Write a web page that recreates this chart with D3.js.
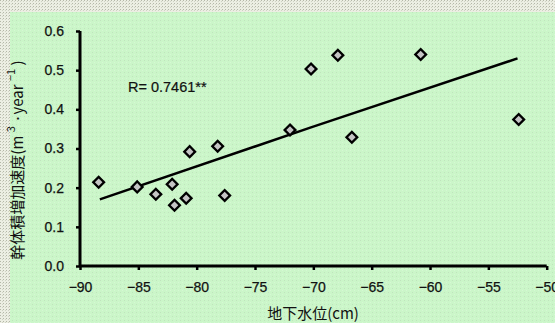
<!DOCTYPE html>
<html>
<head>
<meta charset="utf-8">
<script src="https://cdn.jsdelivr.net/npm/d3@7"></script>
<style>
  body { margin: 0; padding: 0; background: #e9ebe0; }
  svg { display: block; }
</style>
</head>
<body>
<div id="chart"></div>
<script>
// Data
const waterLevel = [-88.4, -85.1, -83.5, -82.1, -81.9, -80.9, -80.6, -78.2, -77.6, -72.0, -70.2, -67.9, -66.7, -60.8, -52.4];
const growthRate = [0.214, 0.202, 0.183, 0.209, 0.155, 0.173, 0.292, 0.306, 0.180, 0.347, 0.503, 0.538, 0.329, 0.540, 0.374];
// trend line
const trendX = [-88.3, -70.2, -52.5];
const trendY = [0.170, 0.354, 0.530];
const xTicks = [-90, -85, -80, -75, -70, -65, -60, -55, -50];
const yTicks = [0.0, 0.1, 0.2, 0.3, 0.4, 0.5, 0.6];

const W = 555, H = 323;
const margin = { top: 31, right: 8, bottom: 57, left: 80 };
const width = W - margin.left - margin.right,
      height = H - margin.top - margin.bottom;

const svg = d3.select("#chart").append("svg")
    .attr("width", W)
    .attr("height", H);

// Background texture
const defs = svg.append("defs");
const pat = defs.append("pattern")
    .attr("id", "tex")
    .attr("width", 4).attr("height", 4)
    .attr("patternUnits", "userSpaceOnUse");
pat.append("rect").attr("width", 4).attr("height", 4).attr("fill", "#cbf6c9");
pat.append("rect").attr("x", 0).attr("y", 0).attr("width", 1).attr("height", 1).attr("fill", "#c0e4bd");
pat.append("rect").attr("x", 2).attr("y", 2).attr("width", 1).attr("height", 1).attr("fill", "#d6f8d4");

const pat2 = defs.append("pattern")
    .attr("id", "tex2")
    .attr("width", 3).attr("height", 3)
    .attr("patternUnits", "userSpaceOnUse");
pat2.append("rect").attr("width", 3).attr("height", 3).attr("fill", "#eceee3");
pat2.append("rect").attr("width", 1).attr("height", 1).attr("fill", "#b4b7a8");
pat2.append("rect").attr("x", 2).attr("y", 1).attr("width", 1).attr("height", 1).attr("fill", "#d0d3c4");

svg.append("rect").attr("width", W).attr("height", H).attr("fill", "url(#tex2)");
svg.append("rect").attr("x", 10).attr("y", 12).attr("width", W - 10).attr("height", H - 12)
    .attr("fill", "url(#tex)");

const g = svg.append("g")
    .attr("transform", `translate(${margin.left},${margin.top})`);

// Scales
const x = d3.scaleLinear().domain([-90, -50]).range([0, width - 0.3]);
const y = d3.scaleLinear().domain([0, 0.6]).range([height, 0]);

const tickFont = "Liberation Sans, Arial, sans-serif";

// X axis
const xAxis = g.append("g")
    .attr("transform", `translate(0,${height})`)
    .call(d3.axisBottom(x).tickValues(xTicks).tickSize(4).tickPadding(12)
        .tickFormat(d => "\u2212" + Math.abs(d)));
xAxis.select(".domain").attr("stroke-width", 3).attr("d", `M0,0H${x(-50)}`);
xAxis.selectAll(".tick line").attr("stroke-width", 2.5);
xAxis.selectAll("text")
    .style("font-family", tickFont)
    .style("font-size", "14px")
    .attr("fill", "#111")
    .attr("stroke", "#111")
    .attr("stroke-width", 0.25);

// Y axis
const yAxis = g.append("g")
    .call(d3.axisLeft(y).tickValues(yTicks).tickSize(4).tickPadding(12)
        .tickFormat(d3.format(".1f")));
yAxis.select(".domain").attr("stroke-width", 3).attr("d", `M0,${y(0.6)}V${height}`);
yAxis.selectAll(".tick line").attr("stroke-width", 2.5);
yAxis.selectAll("text")
    .style("font-family", tickFont)
    .style("font-size", "14px")
    .attr("fill", "#111")
    .attr("stroke", "#111")
    .attr("stroke-width", 0.25);

// Trend line
const line = d3.line()
    .x(d => x(d[0]))
    .y(d => y(d[1]));
g.append("path")
    .datum(trendX.map((v, i) => [v, trendY[i]]))
    .attr("fill", "none")
    .attr("stroke", "#000")
    .attr("stroke-width", 2.5)
    .attr("d", line);

// Diamond points
const diamond = d3.symbol().type(d3.symbolSquare).size(58);
g.selectAll(".pt")
    .data(waterLevel.map((v, i) => [v, growthRate[i]]))
    .enter()
    .append("path")
        .attr("class", "pt")
        .attr("d", diamond)
        .attr("transform", d => `translate(${x(d[0])},${y(d[1])}) rotate(45)`)
        .attr("fill", "#c4c4c4")
        .attr("stroke", "#000")
        .attr("stroke-width", 2.3);

// R annotation
g.append("text")
    .attr("x", 48)
    .attr("y", 61)
    .style("font-family", tickFont)
    .style("font-size", "14.5px")
    .attr("fill", "#111")
    .attr("stroke", "#111")
    .attr("stroke-width", 0.2)
    .text("R= 0.7461**");

// X axis title
svg.append("text")
    .attr("x", 313)
    .attr("y", 319)
    .attr("text-anchor", "middle")
    .style("font-family", "Noto Sans CJK JP, sans-serif")
    .style("font-size", "15px")
    .attr("fill", "#111")
    .text("地下水位(cm)");

// Y axis title
const yTitle = svg.append("text")
    .attr("transform", "translate(23,160) rotate(-90)")
    .attr("text-anchor", "middle")
    .style("font-family", "Noto Sans CJK JP, sans-serif")
    .style("font-size", "15px")
    .attr("fill", "#111");
yTitle.append("tspan").text("幹体積増加速度(m ");
yTitle.append("tspan").attr("dy", -8).style("font-size", "11px").text("3");
yTitle.append("tspan").attr("dy", 8).text(" ·year ");
yTitle.append("tspan").attr("dy", -8).style("font-size", "11px").text("\u22121");
yTitle.append("tspan").attr("dy", 8).text(" )");
</script>
</body>
</html>
